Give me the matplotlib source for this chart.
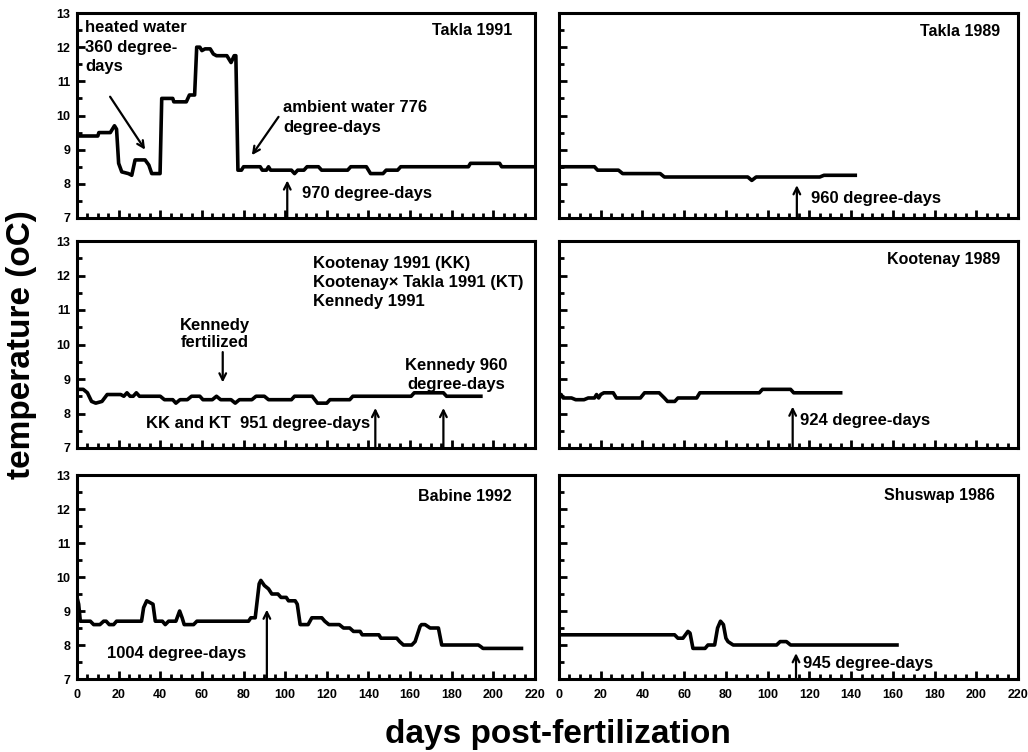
import matplotlib
matplotlib.use("Agg")
import matplotlib.pyplot as plt
from matplotlib.ticker import MultipleLocator

plt.rcParams['font.family'] = ['Liberation Sans', 'DejaVu Sans']
plt.rcParams['font.weight'] = 'bold'

# Takla 1991 (heated then ambient water)
takla91_days = [0, 10, 10.5, 16, 18, 19, 20, 21.5, 24.7, 26.3, 27.9, 32.7, 34.5, 35.9, 39.9,
                40.7, 46, 46.5, 52.5, 54, 56.5, 57.5, 59, 60, 61.5, 64, 65.5, 67, 72, 74, 75.5,
                76.3, 77.3, 79, 80, 88, 89, 91, 92, 93, 103, 104.5, 106, 109, 110.5, 116,
                117.5, 130, 131.5, 139, 141, 147, 148.5, 154, 155.5, 188, 189, 203, 204, 220]
takla91_temp = [9.4, 9.4, 9.5, 9.5, 9.7, 9.6, 8.6, 8.35, 8.3, 8.25, 8.7, 8.7, 8.55, 8.3, 8.3,
                10.5, 10.5, 10.4, 10.4, 10.6, 10.6, 12.0, 12.0, 11.9, 11.95, 11.95, 11.8, 11.75, 11.75, 11.55, 11.75,
                11.75, 8.4, 8.4, 8.5, 8.5, 8.4, 8.4, 8.5, 8.4, 8.4, 8.3, 8.4, 8.4, 8.5, 8.5,
                8.4, 8.4, 8.5, 8.5, 8.3, 8.3, 8.4, 8.4, 8.5, 8.5, 8.6, 8.6, 8.5, 8.5]

# Takla 1989
takla89_days = [0, 17, 18.5, 28.5, 30.5, 48.5, 50.5, 90.5, 92.4, 94.5, 125, 127, 142]
takla89_temp = [8.5, 8.5, 8.4, 8.4, 8.3, 8.3, 8.2, 8.2, 8.1, 8.2, 8.2, 8.25, 8.25]

# Kootenay 1991 / Kootenay x Takla 1991 / Kennedy 1991
koot91_days = [0, 3, 5, 7, 9, 12, 14.5, 21, 22.5, 24, 25.5, 27, 28.5, 30, 40, 42, 46, 47.5,
               49.5, 53, 55, 59, 60.5, 65, 67, 69, 74, 76, 78, 84, 86, 90, 92, 103, 104.5,
               113, 115.5, 120, 121.5, 131, 132.5, 160.5, 162, 176, 177.5, 194]
koot91_temp = [8.7, 8.7, 8.6, 8.35, 8.3, 8.35, 8.55, 8.55, 8.5, 8.6, 8.5, 8.5, 8.6, 8.5, 8.5, 8.4, 8.4, 8.3,
               8.4, 8.4, 8.5, 8.5, 8.4, 8.4, 8.5, 8.4, 8.4, 8.3, 8.4, 8.4, 8.5, 8.5, 8.4, 8.4, 8.5,
               8.5, 8.3, 8.3, 8.4, 8.4, 8.5, 8.5, 8.6, 8.6, 8.5, 8.5]

# Kootenay 1989
koot89_days = [0, 1, 2, 6, 8, 12, 14, 17, 18, 19, 20, 21.5, 26, 27.5, 39, 41, 48, 50.5, 52,
               55.5, 57, 66, 67.5, 96, 97.5, 111, 112.5, 135]
koot89_temp = [8.5, 8.55, 8.45, 8.45, 8.4, 8.4, 8.45, 8.45, 8.55, 8.45, 8.55, 8.6, 8.6, 8.45, 8.45, 8.6, 8.6, 8.45, 8.35,
               8.35, 8.45, 8.45, 8.6, 8.6, 8.7, 8.7, 8.6, 8.6]

# Babine 1992
babine_days = [0, 0.8, 1.6, 6.4, 8, 11, 12.8, 14, 15.5, 17.6, 19, 31, 32, 33.5, 35, 36.5, 37.6,
               41, 42.4, 44, 47.5, 49.3, 50.5, 51.5, 56, 57.6, 82.4, 83.5, 85.6, 87.5, 88.3, 90,
               92, 93.6, 96.5, 98, 100.5, 101.6, 104.8, 105.8, 107.2, 111, 112.8, 117.6, 119,
               121, 126, 128, 131, 132.8, 136, 137, 145, 146, 153.6, 155, 156.8, 160.8, 162.4,
               164.8, 165.5, 167.2, 169.6, 173.6, 175.2, 192.8, 194, 195, 213.5]
babine_temp = [9.4, 9.2, 8.7, 8.7, 8.6, 8.6, 8.7, 8.7, 8.6, 8.6, 8.7, 8.7, 9.1, 9.3, 9.25, 9.2, 8.7,
               8.7, 8.6, 8.7, 8.7, 9.0, 8.8, 8.6, 8.6, 8.7, 8.7, 8.8, 8.8, 9.8, 9.9, 9.75,
               9.65, 9.5, 9.5, 9.4, 9.4, 9.3, 9.3, 9.2, 8.6, 8.6, 8.8, 8.8, 8.7,
               8.6, 8.6, 8.5, 8.5, 8.4, 8.4, 8.3, 8.3, 8.2, 8.2, 8.1, 8.0, 8.0, 8.1,
               8.55, 8.6, 8.6, 8.5, 8.5, 8.0, 8.0, 7.95, 7.9, 7.9]

# Shuswap 1986
shuswap_days = [0, 55.4, 57, 59.4, 61.8, 62.8, 64.2, 70, 71.4, 74.6, 76, 77.4, 78.8, 80, 81,
                83.5, 104.3, 106, 109, 111, 162]
shuswap_temp = [8.3, 8.3, 8.2, 8.2, 8.4, 8.35, 7.9, 7.9, 8.0, 8.0, 8.5, 8.7, 8.6, 8.2, 8.1,
                8.0, 8.0, 8.1, 8.1, 8.0, 8.0]

fig = plt.figure(figsize=(10.28, 7.52), dpi=100)

W, H = 1028.0, 752.0
cols = [(77, 535), (559, 1018)]
rows = [(13, 218), (241, 448), (475, 679)]


def make_ax(r, c):
    x0, x1 = cols[c]
    y0, y1 = rows[r]
    ax = fig.add_axes([x0 / W, 1 - y1 / H, (x1 - x0) / W, (y1 - y0) / H])
    ax.set_xlim(0, 220)
    ax.set_ylim(7, 13)
    ax.xaxis.set_major_locator(MultipleLocator(20))
    ax.xaxis.set_minor_locator(MultipleLocator(5))
    ax.yaxis.set_major_locator(MultipleLocator(1))
    ax.yaxis.set_minor_locator(MultipleLocator(0.5))
    ax.tick_params(which='both', direction='in', top=False, right=False, width=2,
                   labelsize=9)
    ax.tick_params(which='major', length=6)
    ax.tick_params(which='minor', length=3.5)
    ax.tick_params(axis='x', pad=7)
    ax.tick_params(axis='y', pad=5)
    for s in ax.spines.values():
        s.set_linewidth(2.2)
    if r < 2:
        ax.set_xticklabels([])
    if c == 1:
        ax.set_yticklabels([])
    for lab in ax.get_xticklabels() + ax.get_yticklabels():
        lab.set_fontweight('bold')
    return ax


def up_arrow(ax, x, top):
    ax.annotate('', xy=(x, top), xytext=(x, 7.0),
                arrowprops=dict(arrowstyle='->', lw=1.6, color='black',
                                shrinkA=0, shrinkB=0, mutation_scale=12))


def arrow(ax, start, end):
    ax.annotate('', xy=end, xytext=start,
                arrowprops=dict(arrowstyle='->', lw=1.6, color='black',
                                shrinkA=0, shrinkB=0, mutation_scale=12))


fs = 12
tfs = 11.5
lw = 2.6

# Takla 1991
ax = make_ax(0, 0)
ax.plot(takla91_days, takla91_temp, color='black', lw=lw, solid_joinstyle='round')
ax.text(209, 12.5, 'Takla 1991', ha='right', va='center', fontsize=tfs, fontweight='bold')
ax.text(3.8, 12.8, 'heated water\n360 degree-\ndays', ha='left', va='top', fontsize=fs,
        fontweight='bold', linespacing=1.4)
arrow(ax, (15.9, 10.55), (32.7, 9.0))
ax.text(99, 9.95, 'ambient water 776\ndegree-days', ha='left', va='center', fontsize=fs,
        fontweight='bold', linespacing=1.4)
arrow(ax, (96.8, 9.96), (84, 8.84))
up_arrow(ax, 101, 8.1)
ax.text(108, 7.72, '970 degree-days', ha='left', va='center', fontsize=fs, fontweight='bold')

# Takla 1989
ax = make_ax(0, 1)
ax.plot(takla89_days, takla89_temp, color='black', lw=lw, solid_joinstyle='round')
ax.text(211.4, 12.45, 'Takla 1989', ha='right', va='center', fontsize=tfs, fontweight='bold')
up_arrow(ax, 114, 7.96)
ax.text(121, 7.58, '960 degree-days', ha='left', va='center', fontsize=fs, fontweight='bold')

# Kootenay 1991
ax = make_ax(1, 0)
ax.plot(koot91_days, koot91_temp, color='black', lw=lw, solid_joinstyle='round')
ax.text(113.5, 11.8, 'Kootenay 1991 (KK)\nKootenay\u00d7 Takla 1991 (KT)\nKennedy 1991',
        ha='left', va='center', fontsize=fs, fontweight='bold', linespacing=1.35)
ax.text(66.3, 9.85, 'Kennedy\nfertilized', ha='center', va='bottom', fontsize=fs,
        fontweight='bold', linespacing=1.15)
arrow(ax, (70, 9.78), (70, 8.9))
ax.text(141, 7.72, 'KK and KT  951 degree-days', ha='right', va='center', fontsize=fs,
        fontweight='bold')
up_arrow(ax, 143.3, 8.16)
up_arrow(ax, 176, 8.16)
ax.text(182, 9.12, 'Kennedy 960\ndegree-days', ha='center', va='center', fontsize=fs,
        fontweight='bold', linespacing=1.3)

# Kootenay 1989
ax = make_ax(1, 1)
ax.plot(koot89_days, koot89_temp, color='black', lw=lw, solid_joinstyle='round')
ax.text(211.4, 12.45, 'Kootenay 1989', ha='right', va='center', fontsize=tfs, fontweight='bold')
up_arrow(ax, 112, 8.2)
ax.text(115.5, 7.81, '924 degree-days', ha='left', va='center', fontsize=fs, fontweight='bold')

# Babine 1992
ax = make_ax(2, 0)
ax.plot(babine_days, babine_temp, color='black', lw=lw, solid_joinstyle='round')
ax.text(209, 12.38, 'Babine 1992', ha='right', va='center', fontsize=tfs, fontweight='bold')
up_arrow(ax, 91.2, 9.04)
ax.text(14.4, 7.76, '1004 degree-days', ha='left', va='center', fontsize=fs, fontweight='bold')

# Shuswap 1986
ax = make_ax(2, 1)
ax.plot(shuswap_days, shuswap_temp, color='black', lw=lw, solid_joinstyle='round')
ax.text(209, 12.4, 'Shuswap 1986', ha='right', va='center', fontsize=tfs, fontweight='bold')
up_arrow(ax, 113.6, 7.76)
ax.text(117, 7.47, '945 degree-days', ha='left', va='center', fontsize=fs, fontweight='bold')

fig.text(0.021, 1 - 345 / H, 'temperature (oC)', rotation=90, ha='center', va='center',
         fontsize=24, fontweight='bold')
fig.text(558 / W, 1 - 743 / H, 'days post-fertilization', ha='center', va='baseline',
         fontsize=24, fontweight='bold')

plt.savefig('out.png', dpi=100)
